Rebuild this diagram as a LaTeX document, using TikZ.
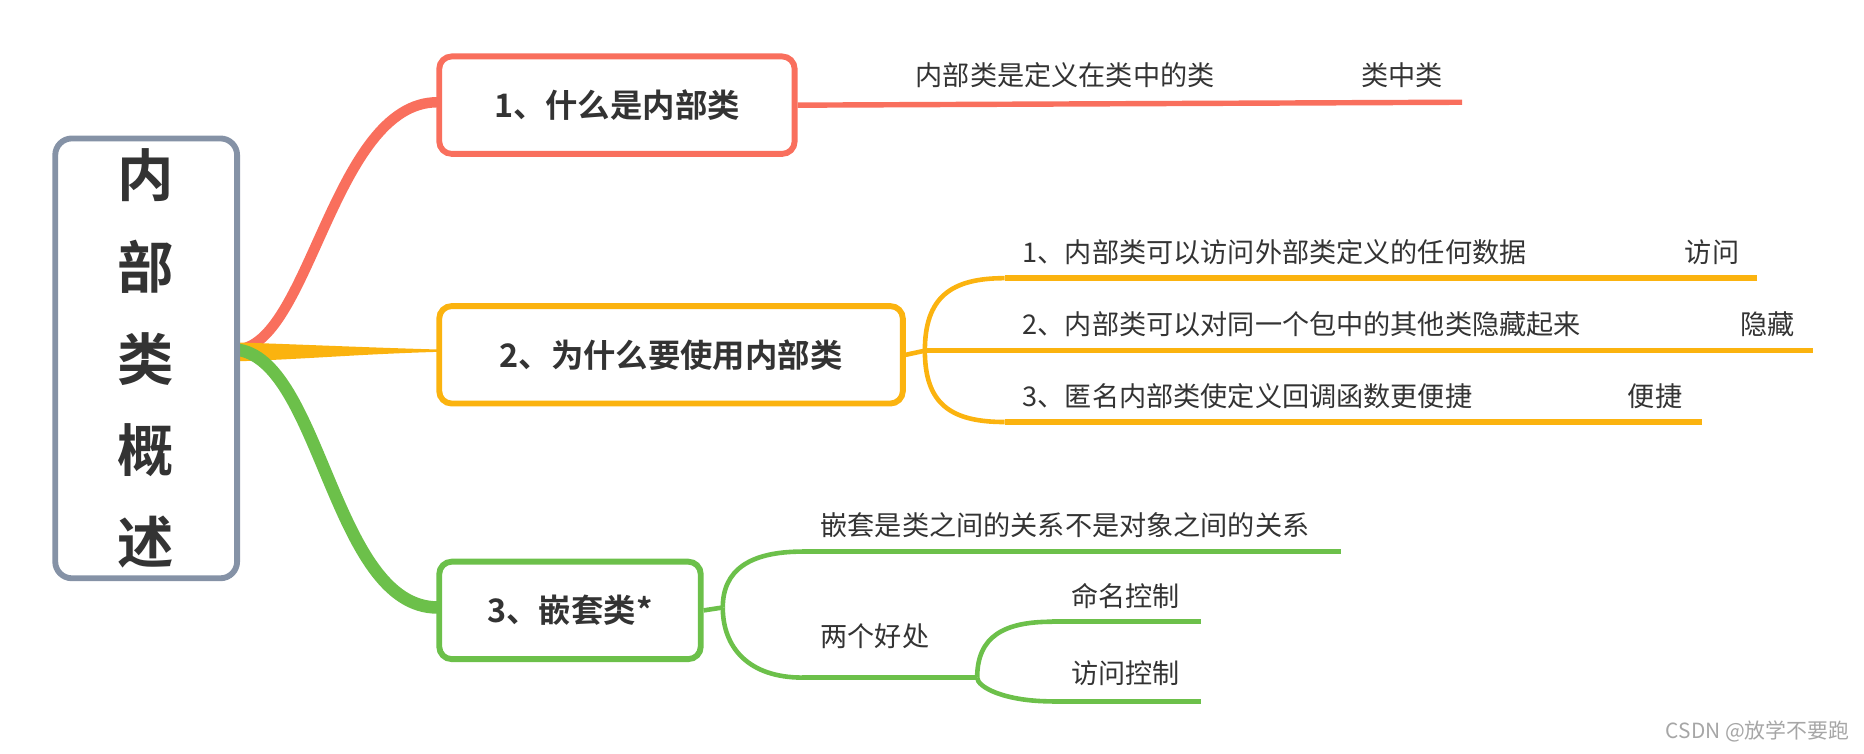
\documentclass[tikz,border=0pt]{standalone}
\usepackage{fontspec}
\setmainfont{Noto Sans CJK SC}
\newfontfamily\cjkb{Noto Sans CJK SC Bold}
\definecolor{cr}{HTML}{F96F5D}
\definecolor{cy}{HTML}{FBB30F}
\definecolor{cg}{HTML}{6CC04A}
\definecolor{cgr}{HTML}{8592A6}
\definecolor{tx}{HTML}{333333}
\begin{document}
\begin{tikzpicture}[x=0.02cm,y=-0.02cm,
  box/.style={draw,line width=4.5pt/1.6,rounded corners=6pt,fill=white,text=tx,font=\cjkb\fontsize{15.5}{18}\selectfont,minimum height=82*0.02cm,anchor=north west,inner sep=0pt},
  leaf/.style={text=tx,font=\fontsize{13}{15}\selectfont,anchor=south west,inner sep=0pt},
  br/.style={line width=2.2pt},
  ln/.style={line width=2.6pt}]
\useasboundingbox (0,0) rectangle (1568,634);
% branches from root
\coordinate (r) at (198,294);
\draw[cr,line width=5pt] (r) .. controls (260,294) and (280,86) .. (368,86);
\fill[cy] (198,288) .. controls (260,290) and (300,292) .. (368,294) -- (368,296) .. controls (300,298) and (260,302) .. (198,304) -- cycle;
\draw[cg,line width=6pt] (r) .. controls (270,300) and (280,511) .. (368,511);
% root
\node[draw=cgr,line width=2.8pt,rounded corners=8pt,fill=white,anchor=north west,minimum width=153*0.02cm,minimum height=370*0.02cm,inner sep=0pt,text=tx,font=\cjkb\fontsize{27}{44}\selectfont,align=center] (root) at (44,114) {内\\部\\类\\概\\述};
% main boxes
\node[box,draw=cr,minimum width=299*0.02cm] (b1) at (367,45) {1、什么是内部类};
\node[box,draw=cy,minimum width=390*0.02cm] (b2) at (367,255) {2、为什么要使用内部类};
\node[box,draw=cg,minimum width=220*0.02cm] (b3) at (367,470) {3、嵌套类*};
% box1
\coordinate (e1) at (1230,86);
\draw[cr,ln] (b1.east) -- (e1);
\node[leaf] (t11) at (770,74) {内部类是定义在类中的类};
\node[leaf] (t12) at (1145,74) {类中类};
% box2
\coordinate (h2) at (778,295);
\coordinate (a1) at (845,234); \coordinate (a2) at (845,295); \coordinate (a3) at (845,355);
\coordinate (f1) at (1478,234); \coordinate (f2) at (1525,295); \coordinate (f3) at (1432,355);
\draw[cy,br] (b2.east) -- (h2);
\draw[cy,br] (h2) .. controls (778,250) and (800,234) .. (a1);
\draw[cy,br] (h2) -- (a2);
\draw[cy,br] (h2) .. controls (778,340) and (800,355) .. (a3);
\draw[cy,ln] (a1) -- (f1); \draw[cy,ln] (a2) -- (f2); \draw[cy,ln] (a3) -- (f3);
\node[leaf] (t21) at (860,223) {1、内部类可以访问外部类定义的任何数据};
\node[leaf] (t22) at (1417,223) {访问};
\node[leaf] (t23) at (860,284) {2、内部类可以对同一个包中的其他类隐藏起来};
\node[leaf] (t24) at (1464,284) {隐藏};
\node[leaf] (t25) at (860,344) {3、匿名内部类使定义回调函数更便捷};
\node[leaf] (t26) at (1369,344) {便捷};
% box3
\coordinate (h3) at (608,511);
\coordinate (c1) at (675,464); \coordinate (c2) at (675,570);
\coordinate (g1) at (1128,464); \coordinate (g2) at (822,570);
\draw[cg,br] (b3.east) -- (h3);
\draw[cg,br] (h3) .. controls (608,480) and (630,464) .. (c1);
\draw[cg,br] (h3) .. controls (608,545) and (630,570) .. (c2);
\draw[cg,ln] (c1) -- (g1); \draw[cg,ln] (c2) -- (g2);
\node[leaf] (t31) at (690,453) {嵌套是类之间的关系不是对象之间的关系};
\node[leaf] (t32) at (690,546) {两个好处};
\coordinate (d1) at (885,523); \coordinate (d2) at (885,590);
\coordinate (k1) at (1010,523); \coordinate (k2) at (1010,590);
\draw[cg,br] (g2) .. controls (822,535) and (845,523) .. (d1);
\draw[cg,br] (g2) .. controls (822,578) and (845,590) .. (d2);
\draw[cg,ln] (d1) -- (k1); \draw[cg,ln] (d2) -- (k2);
\node[leaf] (t33) at (901,512) {命名控制};
\node[leaf] (t34) at (901,577) {访问控制};
\node[anchor=east,text=gray!70,font=\fontsize{10}{12}\selectfont,inner sep=0pt] (wm) at (1556,615) {CSDN @放学不要跑};
\end{tikzpicture}
\end{document}
